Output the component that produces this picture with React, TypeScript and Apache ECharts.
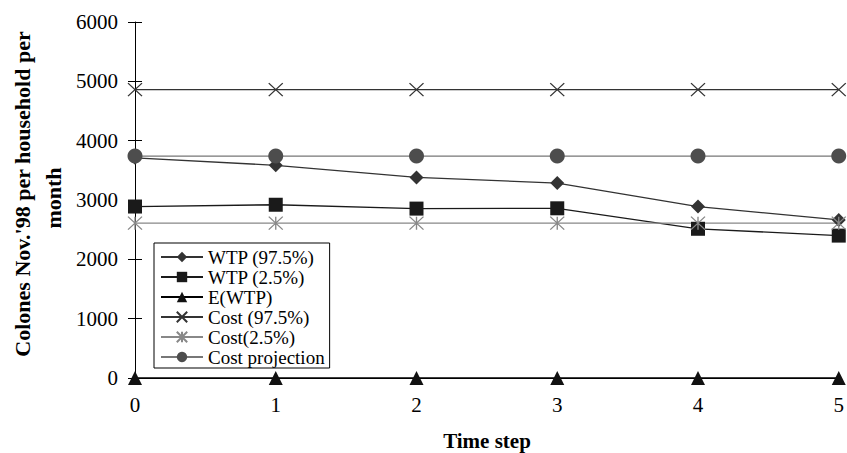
import React, { useEffect, useRef } from "react";
import * as echarts from "echarts";

const timeSteps = [0, 1, 2, 3, 4, 5];
const wtp975 = [3710, 3585, 3380, 3285, 2890, 2665];
const wtp25 = [2890, 2920, 2855, 2860, 2515, 2400];
const eWtp = [0, 0, 0, 0, 0, 0];
const cost975 = [4860, 4860, 4860, 4860, 4860, 4860];
const cost25 = [2610, 2610, 2610, 2610, 2610, 2610];
const costProj = [3740, 3740, 3740, 3740, 3740, 3740];
const yTicks = [0, 1000, 2000, 3000, 4000, 5000, 6000];

const FONT = "'Liberation Serif', 'Times New Roman', serif";
const X_SYMBOL = "path://M0,0L10,10M10,0L0,10";
const STAR_SYMBOL = "path://M0,0L10,10M10,0L0,10M5,0L5,10";

const pairs = (vals: number[]) => timeSteps.map((t, i) => [t, vals[i]]);

export default function App() {
  const ref = useRef<HTMLDivElement>(null);
  useEffect(() => {
    if (!ref.current) return;
    const chart = echarts.init(ref.current, undefined, { renderer: "svg" });
    const mk = (
      name: string,
      vals: number[],
      symbol: string,
      size: number | number[],
      lineColor: string,
      symColor: string,
      stroke = false
    ) => ({
      name,
      type: "line",
      data: pairs(vals),
      symbol,
      symbolSize: size,
      showSymbol: true,
      lineStyle: { color: lineColor, width: 1.3 },
      itemStyle: stroke
        ? { color: symColor, borderColor: symColor, borderWidth: 1.3 }
        : { color: symColor, borderWidth: 0 },
      emphasis: { disabled: true },
    });
    chart.setOption({
      animation: false,
      backgroundColor: "#fff",
      grid: { left: 135, top: 22, width: 705, height: 356, containLabel: false },
      xAxis: {
        type: "value",
        min: 0,
        max: 5,
        interval: 1,
        axisLine: { show: true, lineStyle: { color: "#000", width: 1 } },
        axisTick: { show: false },
        splitLine: { show: false },
        axisLabel: { color: "#000", fontFamily: FONT, fontSize: 21, margin: 16 },
      },
      yAxis: [
        {
          type: "value",
          min: yTicks[0],
          max: yTicks[yTicks.length - 1],
          interval: 1000,
          axisLine: { show: true, lineStyle: { color: "#000", width: 1 } },
          axisTick: { show: true, length: 7, lineStyle: { color: "#000" } },
          splitLine: { show: false },
          axisLabel: {
            color: "#000",
            fontFamily: FONT,
            fontSize: 21,
            margin: 17,
            formatter: (v: number) => String(v),
          },
        },
        {
          type: "value",
          position: "left",
          min: yTicks[0],
          max: yTicks[yTicks.length - 1],
          interval: 1000,
          axisLine: { show: false },
          axisTick: { show: true, inside: true, length: 7, lineStyle: { color: "#000" } },
          splitLine: { show: false },
          axisLabel: { show: false },
        },
      ],
      legend: {
        show: true,
        orient: "vertical",
        left: 154,
        top: 243,
        backgroundColor: "#fff",
        borderColor: "#000",
        borderWidth: 1,
        borderRadius: 0,
        padding: [4, 5, 1, 6],
        itemGap: 0,
        itemWidth: 42,
        itemHeight: 13,
        textStyle: { color: "#000", fontFamily: FONT, fontSize: 19, lineHeight: 20 },
        data: ["WTP (97.5%)", "WTP (2.5%)", "E(WTP)", "Cost (97.5%)", "Cost(2.5%)", "Cost projection"],
      },
      graphic: [
        {
          type: "text",
          x: 22,
          y: 194,
          rotation: Math.PI / 2,
          style: {
            text: "Colones Nov.'98 per household per",
            font: `bold 22px ${FONT}`,
            fill: "#000",
            align: "center",
            verticalAlign: "middle",
          },
        },
        {
          type: "text",
          x: 53,
          y: 198,
          rotation: Math.PI / 2,
          style: {
            text: "month",
            font: `bold 22px ${FONT}`,
            fill: "#000",
            align: "center",
            verticalAlign: "middle",
          },
        },
        {
          type: "text",
          x: 487,
          y: 441,
          style: {
            text: "Time step",
            font: `bold 21px ${FONT}`,
            fill: "#000",
            align: "center",
            verticalAlign: "middle",
          },
        },
      ],
      series: [
        mk("WTP (97.5%)", wtp975, "diamond", 14, "#333", "#333"),
        mk("WTP (2.5%)", wtp25, "rect", 14, "#1a1a1a", "#1a1a1a"),
        mk("E(WTP)", eWtp, "triangle", 14, "#000", "#111"),
        mk("Cost (97.5%)", cost975, X_SYMBOL, [14, 13], "#333", "#333", true),
        mk("Cost(2.5%)", cost25, STAR_SYMBOL, [14, 13], "#888", "#888", true),
        mk("Cost projection", costProj, "circle", 15, "#777", "#4d4d4d"),
      ],
    });
    return () => chart.dispose();
  }, []);
  return (
    <div
      ref={ref}
      style={{ position: "absolute", left: 0, top: 0, width: 847, height: 453 }}
    />
  );
}
